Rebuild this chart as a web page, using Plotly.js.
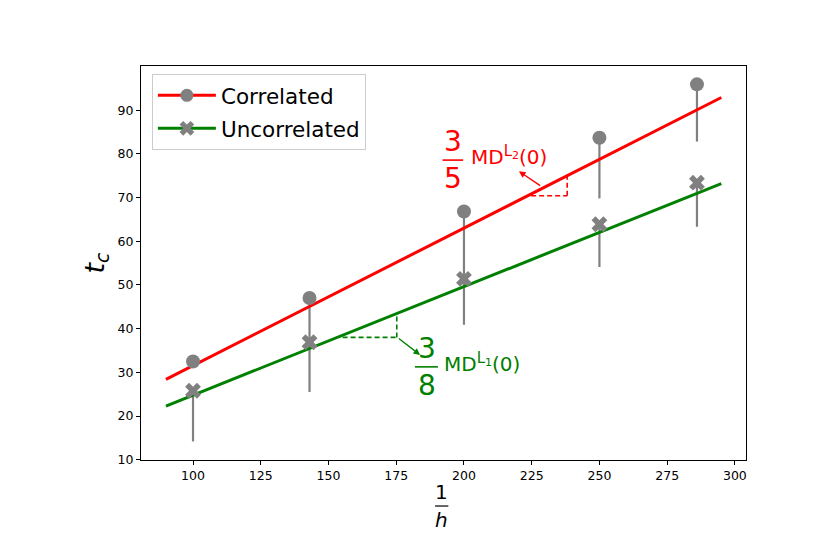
<!DOCTYPE html>
<html>
<head>
<meta charset="utf-8">
<script src="https://cdn.plot.ly/plotly-3.0.1.min.js"></script>
<style>html,body{margin:0;padding:0;background:#fff;} #chart{width:830px;height:554px;}</style>
</head>
<body>
<div id="chart"></div>
<script>
// ---- data ----
const invH = [100, 143, 200, 250, 286];
const correlated = [32.5, 47.0, 66.8, 83.7, 95.9];
const correlatedLow = [32.5, 37.0, 51.5, 69.8, 82.8];
const uncorrelated = [25.8, 36.9, 51.4, 63.9, 73.4];
const uncorrelatedLow = [14.2, 25.5, 40.9, 54.1, 63.3];
const fitX = [90, 295];
const correlatedFit = [28.4, 92.9];
const uncorrelatedFit = [22.3, 73.2];
const redTriX = [224.8, 238.1];
const redTriY = [70.4, 75.6];
const greenTriX = [155.2, 175.2];
const greenTriY = [38.0, 42.9];
const xTicks = [100, 125, 150, 175, 200, 225, 250, 275, 300];
const yTicks = [10, 20, 30, 40, 50, 60, 70, 80, 90];
const seriesNames = ['Correlated', 'Uncorrelated'];

const RED = '#ff0000', GREEN = '#008000', GREY = '#808080';
const FONT = 'DejaVu Sans, sans-serif';

function minus(vals, lows) { return vals.map((v, i) => v - lows[i]); }
function zeros(n) { return new Array(n).fill(0); }
function mdLabel(k) {
  return 'MD<sup><span style="font-size:15px">L</span><sub><span style="font-size:11px">' + k + '</span></sub></sup>(0)';
}

const traces = [
  // downward error bars, drawn first
  {x: invH, y: correlated, mode: 'markers', marker: {size: 0.1, color: 'rgba(0,0,0,0)'},
   error_y: {type: 'data', symmetric: false, array: zeros(invH.length), arrayminus: minus(correlated, correlatedLow),
             width: 0, thickness: 2.2, color: GREY}, showlegend: false, hoverinfo: 'skip'},
  {x: invH, y: uncorrelated, mode: 'markers', marker: {size: 0.1, color: 'rgba(0,0,0,0)'},
   error_y: {type: 'data', symmetric: false, array: zeros(invH.length), arrayminus: minus(uncorrelated, uncorrelatedLow),
             width: 0, thickness: 2.2, color: GREY}, showlegend: false, hoverinfo: 'skip'},
  // fitted lines
  {x: fitX, y: correlatedFit, mode: 'lines', line: {color: RED, width: 3}, showlegend: false},
  {x: fitX, y: uncorrelatedFit, mode: 'lines', line: {color: GREEN, width: 3}, showlegend: false},
  // markers
  {x: invH, y: correlated, mode: 'markers', marker: {symbol: 'circle', size: 14, color: GREY}, showlegend: false},
  {x: invH, y: uncorrelated, mode: 'markers', marker: {symbol: 'x', size: 14, color: GREY}, showlegend: false},
  // legend entries
  {x: [null], y: [null], name: seriesNames[0], legendgroup: 'a', mode: 'lines+markers',
   line: {color: RED, width: 3}, marker: {symbol: 'circle', size: 13, color: GREY}},
  {x: [null], y: [null], name: seriesNames[1], legendgroup: 'b', mode: 'lines+markers',
   line: {color: GREEN, width: 3}, marker: {symbol: 'x', size: 13, color: GREY}}
];

const DASH = '5px,3px';
const shapes = [
  {type: 'line', xref: 'x', yref: 'y', x0: redTriX[0], y0: redTriY[0], x1: redTriX[1], y1: redTriY[0], line: {color: RED, width: 1.6, dash: DASH}},
  {type: 'line', xref: 'x', yref: 'y', x0: redTriX[1], y0: redTriY[0], x1: redTriX[1], y1: redTriY[1], line: {color: RED, width: 1.6, dash: DASH}},
  {type: 'line', xref: 'x', yref: 'y', x0: greenTriX[0], y0: greenTriY[0], x1: greenTriX[1], y1: greenTriY[0], line: {color: GREEN, width: 1.6, dash: DASH}},
  {type: 'line', xref: 'x', yref: 'y', x0: greenTriX[1], y0: greenTriY[0], x1: greenTriX[1], y1: greenTriY[1], line: {color: GREEN, width: 1.6, dash: DASH}},
  // fraction bars
  {type: 'line', xref: 'x', yref: 'y', x0: 192.1, y0: 78.57, x1: 199.7, y1: 78.57, line: {color: RED, width: 1.6}},
  {type: 'line', xref: 'x', yref: 'y', x0: 181.9, y0: 31.26, x1: 190.4, y1: 31.26, line: {color: GREEN, width: 1.6}},
  {type: 'line', xref: 'paper', yref: 'paper', x0: 0.486, y0: -0.1168, x1: 0.508, y1: -0.1168, line: {color: 'black', width: 1.2}}
];

const annotations = [
  // red label 3/5 MD^{L2}(0)
  {xref: 'x', yref: 'y', x: 195.9, y: 78.57, yanchor: 'bottom', text: '3', showarrow: false, font: {family: FONT, size: 28, color: RED}},
  {xref: 'x', yref: 'y', x: 195.9, y: 78.57, yanchor: 'top', text: '5', showarrow: false, font: {family: FONT, size: 28, color: RED}},
  {xref: 'x', yref: 'y', x: 201.9, y: 79.6, xanchor: 'left', text: mdLabel(2), showarrow: false, font: {family: FONT, size: 20, color: RED}},
  {xref: 'x', yref: 'y', axref: 'x', ayref: 'y', x: 220.3, y: 76.0, ax: 228.7, ay: 72.5, text: '', showarrow: true,
   arrowhead: 2, arrowsize: 1, arrowwidth: 1.3, arrowcolor: RED, standoff: 0},
  // green label 3/8 MD^{L1}(0)
  {xref: 'x', yref: 'y', x: 186.3, y: 31.26, yanchor: 'bottom', text: '3', showarrow: false, font: {family: FONT, size: 28, color: GREEN}},
  {xref: 'x', yref: 'y', x: 186.3, y: 31.26, yanchor: 'top', text: '8', showarrow: false, font: {family: FONT, size: 28, color: GREEN}},
  {xref: 'x', yref: 'y', x: 191.9, y: 32.3, xanchor: 'left', text: mdLabel(1), showarrow: false, font: {family: FONT, size: 20, color: GREEN}},
  {xref: 'x', yref: 'y', axref: 'x', ayref: 'y', x: 183.8, y: 34.0, ax: 175.4, ay: 38.0, text: '', showarrow: true,
   arrowhead: 2, arrowsize: 1, arrowwidth: 1.3, arrowcolor: GREEN, standoff: 0},
  // x axis label 1/h
  {xref: 'paper', yref: 'paper', x: 0.4967, y: -0.1168, yanchor: 'bottom', text: '1', showarrow: false, font: {family: FONT, size: 20, color: 'black'}},
  {xref: 'paper', yref: 'paper', x: 0.4967, y: -0.1168, yanchor: 'top', text: '<i>h</i>', showarrow: false, font: {family: FONT, size: 20, color: 'black'}}
];

const layout = {
  width: 830, height: 554,
  margin: {l: 141, r: 84, t: 66, b: 94},
  paper_bgcolor: 'white', plot_bgcolor: 'white',
  font: {family: FONT, size: 12.5, color: 'black'},
  xaxis: {range: [80.8, 304.1], tickvals: xTicks, ticktext: xTicks.map(String),
          showgrid: false, zeroline: false, showline: true, mirror: true, linecolor: 'black', linewidth: 1,
          ticks: 'outside', ticklen: 4, tickwidth: 1, tickcolor: 'black', tickfont: {size: 12.5}},
  yaxis: {range: [9.95, 100.1], tickvals: yTicks, ticktext: yTicks.map(String),
          showgrid: false, zeroline: false, showline: true, mirror: true, linecolor: 'black', linewidth: 1,
          ticks: 'outside', ticklen: 4, tickwidth: 1, tickcolor: 'black', tickfont: {size: 12.5},
          title: {text: '<i>t</i><sub><i>c</i></sub>', font: {size: 27}, standoff: 5}},
  showlegend: true,
  legend: {x: 0.018, y: 0.98, xanchor: 'left', yanchor: 'top', bgcolor: 'rgba(255,255,255,0.8)',
           bordercolor: '#cccccc', borderwidth: 1, font: {size: 21.5}, tracegroupgap: 2, itemwidth: 58},
  shapes: shapes,
  annotations: annotations
};

Plotly.newPlot('chart', traces, layout, {displayModeBar: false, staticPlot: true});
</script>
</body>
</html>
